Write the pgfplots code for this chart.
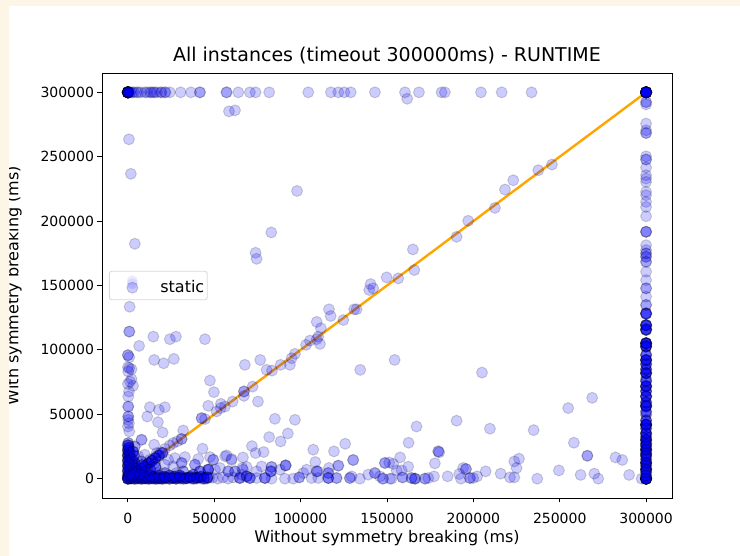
\documentclass[border=0pt]{standalone}
\usepackage{pgfplots}
\usepackage{pgfplotstable}
\pgfplotsset{compat=1.18}
\usepackage{fontspec}
\setmainfont{DejaVu Sans}
\definecolor{cream}{RGB}{253,245,230}
\definecolor{lineor}{RGB}{255,165,0}
\pgfplotstableread{
x y
0 0
2000 500
4000 0
6000 800
8000 0
10000 500
12000 0
14000 800
16000 0
18000 500
20000 0
22000 800
24000 0
26000 500
28000 0
30000 800
32000 0
34000 500
36000 1200
38000 0
40000 800
42000 1500
44000 0
46000 1000
1000 3000
3000 2000
5000 3000
7000 2000
9000 3000
11000 2000
13000 2500
15000 1500
18000 2500
21000 1500
24000 2500
27000 1500
30000 2500
}\lowrow
\pgfplotstableread{
x y
0 2000
1000 4000
0 6000
1500 8000
0 10000
1000 12000
0 14000
1500 16000
0 18000
1000 20000
0 22000
500 24000
0 26000
3000 3000
4000 6000
3000 9000
4000 12000
2500 15000
3500 18000
3000 21000
2000 2000
4000 4000
6000 6000
8000 8000
10000 10000
12000 12000
14000 14000
16000 16000
18000 18000
20000 20000
7000 3500
10000 5500
13000 7000
16000 9000
8000 10500
}\leftcol
\pgfplotstableread{
x y
300000 0
300000 2500
300000 5000
300000 7500
300000 10000
300000 12500
300000 15000
300000 17500
300000 20000
300000 22500
300000 25000
300000 27500
300000 30000
300000 32500
300000 35000
300000 39000
300000 42000
300000 45000
300000 52000
300000 56000
300000 59000
300000 64000
300000 68000
300000 72000
300000 76000
300000 82000
300000 85000
300000 89000
300000 92000
300000 96000
300000 103000
300000 105000
300000 116000
300000 119000
300000 128000
}\rightcol
\begin{document}
\begin{tikzpicture}[x=1pt,y=1pt]
\fill[cream] (0,0) rectangle (740,556);
\fill[white] (9,0) rectangle (740,550);
\begin{axis}[
  at={(102pt,58pt)}, anchor=south west,
  scale only axis, width=570pt, height=425pt,
  xmin=-15000, xmax=315000, ymin=-15000, ymax=315000,
  xtick={0,50000,100000,150000,200000,250000,300000},
  ytick={0,50000,100000,150000,200000,250000,300000},
  scaled ticks=false,
  /pgf/number format/assume math mode=true,
  /pgf/number format/fixed,
  /pgf/number format/1000 sep={},
  tick align=outside, tick pos=left,
  tick style={black, line width=0.9pt}, major tick length=4.5pt,
  axis line style={line width=0.9pt},
  ticklabel style={font=\fontsize{14}{16}\selectfont},
  xticklabel style={yshift=-7pt},
  title={All instances (timeout 300000ms) - RUNTIME},
  title style={font=\fontsize{19}{22}\selectfont, yshift=-1pt},
  xlabel={Without symmetry breaking (ms)},
  ylabel={With symmetry breaking (ms)},
  label style={font=\fontsize{16}{19}\selectfont},
  xlabel style={yshift=0pt},
  ylabel style={yshift=12pt},
  clip=false,
  legend style={at={(axis cs:-11000,150000)}, anchor=west, draw=black!15, rounded corners=2.5pt,
    font=\fontsize{16}{18}\selectfont, inner xsep=1pt, inner ysep=4pt, line width=0.9pt},
]
\addplot[only marks, mark=*, mark size=5.5pt,
  mark options={fill=blue, draw=black, fill opacity=0.2, draw opacity=0.16, line width=1pt},
  legend image code/.code={
    \path[draw=none,fill=none] (-22pt,-9pt) rectangle (26pt,9pt);
    \fill[draw=none,blue!25,opacity=.3] (0,6pt) circle (5.5pt);
    \fill[draw=none,blue!25,opacity=.45] (0,3pt) circle (5.5pt);
    \path[draw=black,fill=blue,fill opacity=.2,draw opacity=.16,line width=1pt,rounded corners=0pt] (0,-1pt) circle (5.5pt);
  }]
coordinates {
% top row
(0,300000)(0,300000)(0,300000)(0,300000)(0,300000)(0,300000)(0,300000)(0,300000)(0,300000)(0,300000)(0,300000)(0,300000)(0,300000)(0,300000)(0,300000)(0,300000)(0,300000)(0,300000)(0,300000)(0,300000)(0,300000)(0,300000)(0,300000)(0,300000)(0,300000)
(500,300000)(1000,300000)(1500,300000)(2500,300000)(3500,300000)(5000,300000)(5970,300000)(7500,300000)(9840,300000)(11000,300000)(12740,300000)(13500,300000)(14670,300000)(15500,300000)(16800,300000)(19000,300000)(19500,300000)(21400,300000)(21800,300000)(24300,300000)(30500,300000)(36500,300000)(41700,300000)(41700,300000)(57100,300000)(57100,300000)(63900,300000)(70600,300000)(73900,300000)(81800,300000)(104400,300000)(117500,300000)(121800,300000)(125300,300000)(129000,300000)(143000,300000)(160400,300000)(168500,300000)(181600,300000)(183500,300000)(204400,300000)(216400,300000)(233700,300000)
% upper scatter
(58500,285200)(62000,286000)(161700,295000)(600,263500)(1700,236700)(97900,223400)(4000,182400)(83000,191200)(73900,175400)(74500,170700)(1000,133500)
(140500,151100)(139700,146500)(142000,147800)(800,114200)(800,114200)(6500,103100)(14700,110300)(24300,108300)(27800,110300)(44600,108300)(15200,92200)(20700,89600)(26600,93000)
% left column
(0,95900)(0,95900)(800,94300)(800,85800)(2100,85000)(0,86600)(200,83200)(2100,77300)(0,73600)(3000,72100)(1200,75400)(600,67700)(200,63800)(200,56000)(200,56000)
(200,48300)(200,48300)(200,45700)(0,40500)(600,43100)(800,36700)(200,27700)(200,27700)(400,25500)(200,23800)(0,22500)(600,21500)(0,19900)(500,19000)(0,18000)(800,17000)(0,16000)(500,15000)(0,14000)(1000,13000)(0,12000)(500,11000)(0,10000)(800,9000)(0,8000)(500,7000)(0,6000)(800,5000)(0,4000)(500,3000)(0,2000)(800,1000)(0,0)(0,0)(0,0)(0,0)(0,0)(500,500)(1000,1000)
% free scatter, lower left
(12700,55500)(17900,53500)(21400,55500)(11200,48300)(17400,43900)(20100,35900)(7900,30200)(7900,30200)(15200,26400)
(32000,37400)(31100,30800)(31100,30800)(28500,28900)(26200,27600)(24300,25800)(21400,23200)(19000,20500)(17000,18000)(15500,16000)(14000,14000)(12500,12500)(11000,11000)(9500,9500)(8000,8000)(6500,6500)(5000,5000)(4000,4000)(3000,3000)(2000,2000)
(42700,47000)(42700,47000)(44600,46300)(47500,76200)(49800,67200)(46500,56600)(53800,58100)(51300,52200)(53700,54800)(56200,56000)(60600,59900)(67200,67700)(67200,67700)(67200,64300)(72200,71500)(75300,59900)(67700,88400)(76600,92200)(80300,84500)(83400,83900)(88400,88400)(93800,88400)(94800,93500)(96700,96900)(103100,103900)(105400,107200)(109300,121700)(111700,116800)(110200,110300)(109300,108300)(111200,104600)(116400,131500)(117400,126300)(124700,123200)(131000,131500)(132400,131500)(134500,84500)
(85100,46500)(96700,45700)(81800,32300)(92600,35100)(88400,28900)(71800,25300)(73900,19900)(78600,20700)(43200,23300)(56300,17300)(60000,14500)(66600,16500)(107300,22500)(119300,21200)(125800,27100)(130400,14500)(130400,14500)(108500,12900)
(23300,14700)(27200,16000)(33000,16800)(31100,12200)(31100,12200)(40700,15300)(38800,10900)(38800,10900)(47500,16800)(49400,14700)(49400,14700)(57100,18100)(60000,15300)(4000,25000)(4000,25000)(9800,18600)(16600,19900)(12700,14700)(6000,17300)(15600,12200)(21400,10900)(26200,9500)(50400,7000)(53300,8300)(58100,5700)(58100,5700)(62000,5700)(62000,5700)(66200,8300)(46500,7000)(46500,7000)(46500,7000)(46500,7000)(41700,5700)(41700,5700)(41700,5700)(37800,3100)(37800,3100)(37800,3100)(32000,5700)(32000,5700)(28200,4400)(21400,4400)(21400,4400)(17500,4400)(11800,5700)(11800,5700)(6000,8300)(6000,8300)(3100,10900)(3100,10900)(7900,13400)(7900,13400)
% lower row
(1000,0)(2000,0)(3000,0)(4000,0)(5000,0)(6000,0)(7000,0)(8000,0)(9000,0)(10000,0)(11000,0)(12000,0)(13000,0)(14000,0)(15000,0)(16000,0)(17000,0)(18000,0)(19000,0)(20000,0)
(1500,800)(3500,800)(5500,800)(7500,800)(9500,800)(11500,800)(13500,800)(15500,800)(17500,800)(19500,800)
(21500,0)(23000,800)(24500,0)(26000,800)(27500,0)(29000,800)(30500,0)(32000,800)(33500,0)(35000,800)(36500,0)(38000,800)(39500,0)(41000,800)(42500,0)(44000,800)(45500,0)(47000,800)
(22000,500)(25000,1500)(28000,500)(31000,1500)(34000,500)(37000,1500)(40000,500)(43000,1500)(46000,500)(49000,800)(52000,0)(55000,1000)(58000,0)(61000,1000)
(64800,500)(64800,500)(64800,500)(65800,3100)(68700,1800)(68700,1800)(68700,1800)(70600,500)(70600,500)(70600,500)(74500,500)(74500,5700)(68700,9100)(77400,9500)(66600,7000)
(91300,10300)(91300,10300)(91300,10300)(83200,9100)(83200,9100)(82800,5700)(82800,5700)(82800,5700)(88000,7000)(79300,500)(79300,500)(79300,500)(83200,0)(90900,0)(95700,0)(99200,1000)(99200,1000)(103500,7000)(101500,4400)(106300,500)(109300,5700)(109300,5700)(110000,5700)(110200,500)(116400,8300)(116000,4400)(116000,4400)(116000,500)(116000,500)(116000,500)(120800,500)(120800,500)(121800,10100)(121800,10100)
(128500,500)(128500,500)(134300,0)(129500,1800)(139100,3100)(143000,4400)(143000,4400)(145900,1800)(147800,0)(151700,0)
% lower right
(148800,12200)(148800,12200)(151300,12600)(153600,11400)(154400,92200)(205000,82400)(268800,62800)(254900,54800)(190300,45000)(167100,40500)(209600,38800)(234900,37700)(162500,27900)(258200,27900)(179700,21200)(179700,21200)(180200,20400)(266000,17800)(266000,17800)(157600,16500)(282300,16500)(286200,14500)(226400,15500)(223700,13400)(162300,9300)(177700,11900)(155600,6400)(158500,6400)(194100,8300)(195700,7500)(195700,7500)(191800,3600)(225000,8300)(207100,5700)(202200,1800)(198000,500)(198000,500)(199900,500)(192800,0)(185100,1800)(177200,1800)(172000,0)(172000,0)(173900,500)(166200,0)(166200,0)(166200,0)(164200,500)(164200,500)(159000,1000)(159000,1000)(152700,0)(147500,0)(215800,3900)(221200,1000)(223700,1000)(237000,0)(249500,6400)(262100,2900)(270000,3900)(272300,0)(290200,2900)(297400,0)
% diagonal, upper
(149800,156300)(156500,155500)(165800,162000)(165000,178000)(190300,187800)(197000,200200)(212500,210300)(218300,224500)(223100,231700)(237600,239500)(245500,243900)
% right column
(300000,300000)(300000,300000)(300000,300000)(300000,300000)(300000,300000)(300000,300000)(300000,300000)(300000,300000)(300000,300000)(300000,300000)(300000,300000)(300000,300000)(300000,300000)(300000,300000)(300000,300000)(300000,300000)(300000,300000)(300000,300000)(300000,300000)(300000,300000)(300000,300000)(300000,300000)(300000,300000)(300000,300000)(300000,300000)
(300000,292400)(300000,292400)(300000,290600)(300000,275700)(300000,270500)(300000,268400)(300000,268400)(300000,250300)(300000,247800)(300000,247800)(300000,241600)(300000,235600)(300000,233000)(300000,230400)(300000,222700)(300000,220100)(300000,214900)(300000,211000)(300000,203800)(300000,191700)(300000,191700)(300000,191700)(300000,181300)(300000,177500)(300000,174900)(300000,174900)(300000,172300)(300000,172300)(300000,168400)(300000,168400)(300000,160700)(300000,154200)(300000,147800)(300000,147800)(300000,141300)(300000,134900)(300000,134900)
(300000,128400)(300000,128400)(300000,128400)(300000,119300)(300000,119300)(300000,119300)(300000,119300)(300000,115500)(300000,115500)(300000,115500)(300000,115500)(300000,105200)(300000,105200)(300000,105200)(300000,105200)(300000,105200)(300000,105200)(300000,102500)(300000,102500)(300000,102500)(300000,102500)
(300000,92200)(300000,92200)(300000,92200)(300000,92200)(300000,96100)(300000,88400)(300000,81900)(300000,81900)(300000,81900)(300000,81900)(300000,84500)(300000,78000)(300000,71500)(300000,71500)(300000,71500)(300000,71500)(300000,75400)(300000,67700)(300000,63800)(300000,63800)(300000,63800)(300000,56600)(300000,56600)(300000,56600)(300000,56600)(300000,56600)(300000,59900)(300000,49600)(300000,49600)
(300000,41800)(300000,41800)(300000,41800)(300000,41800)(300000,41800)(300000,41800)(300000,41800)(300000,45700)(300000,35400)(300000,35400)(300000,35400)(300000,30200)(300000,30200)(300000,30200)(300000,30200)(300000,22500)(300000,22500)(300000,22500)(300000,22500)(300000,22500)(300000,26400)(300000,26400)(300000,26400)(300000,18600)(300000,18600)(300000,18600)(300000,18600)
(300000,12200)(300000,12200)(300000,12200)(300000,12200)(300000,12200)(300000,7000)(300000,7000)(300000,7000)(300000,7000)(300000,7000)(300000,0)(300000,0)(300000,0)(300000,0)(300000,0)(300000,0)(300000,0)(300000,0)(300000,0)(300000,0)(300000,0)(300000,0)(300000,0)(300000,0)(300000,0)
};
\addlegendentry{static\hspace{3pt}}
\pgfplotsinvokeforeach{1,2,3}{
\addplot[forget plot, only marks, mark=*, mark size=5.5pt, mark options={fill=blue, draw=black, fill opacity=0.2, draw opacity=0.16, line width=1pt}] table[x=x,y=y] {\lowrow};
\addplot[forget plot, only marks, mark=*, mark size=5.5pt, mark options={fill=blue, draw=black, fill opacity=0.2, draw opacity=0.16, line width=1pt}] table[x=x,y=y] {\leftcol};
\addplot[forget plot, only marks, mark=*, mark size=5.5pt, mark options={fill=blue, draw=black, fill opacity=0.2, draw opacity=0.16, line width=1pt}] table[x=x,y=y] {\rightcol};
}
\addplot[forget plot, lineor, line width=2.4pt] coordinates {(0,0)(300000,300000)};
\end{axis}
\fill[cream] (0,0) rectangle (9,556);
\end{tikzpicture}
\end{document}
